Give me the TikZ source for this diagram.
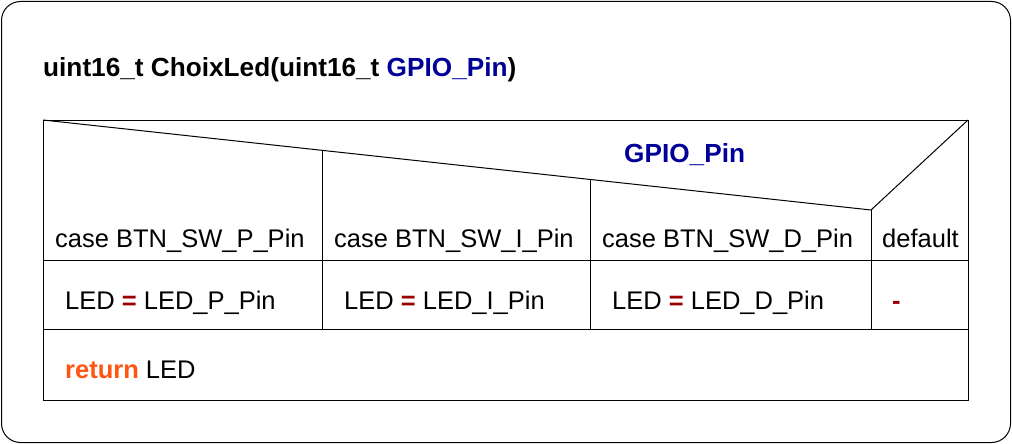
\documentclass[tikz,border=0pt]{standalone}
\usepackage{fontspec}
\setmainfont{Liberation Sans}
\definecolor{kwblue}{HTML}{000099}
\definecolor{opred}{HTML}{990000}
\definecolor{retorange}{HTML}{FF5511}
\begin{document}
\begin{tikzpicture}[x=1pt,y=-1pt,
  lbl/.style={anchor=base west,inner sep=0pt,font=\fontsize{25.5}{30}\selectfont},
  ttl/.style={anchor=base west,inner sep=0pt,font=\fontsize{26.2}{30}\selectfont\bfseries},
  grid/.style={draw=black,line width=1pt}]
\useasboundingbox (0,0) rectangle (1012,444);
\draw[line width=1pt, rounded corners=19pt] (1.5,1.5) rectangle (1010.5,442.5);
% table geometry
\coordinate (tl) at (43,120);
\coordinate (tr) at (968,120);
\coordinate (bl) at (43,400);
\coordinate (br) at (968,400);
\coordinate (ml) at (43,260);
\coordinate (mr) at (968,260);
\coordinate (rl) at (43,329);
\coordinate (rr) at (968,329);
\coordinate (d) at (871,210);
\coordinate (c1t) at (322,150.3);
\coordinate (c1b) at (322,329);
\coordinate (c2t) at (590,179.5);
\coordinate (c2b) at (590,329);
\coordinate (db) at (871,329);
\draw[grid] (tl) rectangle (br);
\draw[grid] (ml) -- (mr);
\draw[grid] (rl) -- (rr);
\draw[grid] (tl) -- (d) -- (tr);
\draw[grid] (c1t) -- (c1b);
\draw[grid] (c2t) -- (c2b);
\draw[grid] (d) -- (db);
% texts
\node[ttl] (title) at (43,77) {uint16\_t ChoixLed(uint16\_t \textcolor{kwblue}{GPIO\_Pin})};
\node[ttl,text=kwblue] (sel) at (624,162) {GPIO\_Pin};
\node[lbl] (caseP) at (55,247) {case BTN\_SW\_P\_Pin};
\node[lbl] (caseI) at (334,247) {case BTN\_SW\_I\_Pin};
\node[lbl] (caseD) at (602,247) {case BTN\_SW\_D\_Pin};
\node[lbl] (def) at (882,247) {default};
\node[lbl] (ledP) at (65,309) {LED \textcolor{opred}{\bfseries =} LED\_P\_Pin};
\node[lbl] (ledI) at (344,309) {LED \textcolor{opred}{\bfseries =} LED\_I\_Pin};
\node[lbl] (ledD) at (612,309) {LED \textcolor{opred}{\bfseries =} LED\_D\_Pin};
\node[lbl,text=opred,font=\fontsize{25.5}{30}\selectfont\bfseries] (dash) at (892,309) {-};
\node[lbl] (ret) at (65,378) {\textcolor{retorange}{\bfseries return} LED};
\end{tikzpicture}
\end{document}
